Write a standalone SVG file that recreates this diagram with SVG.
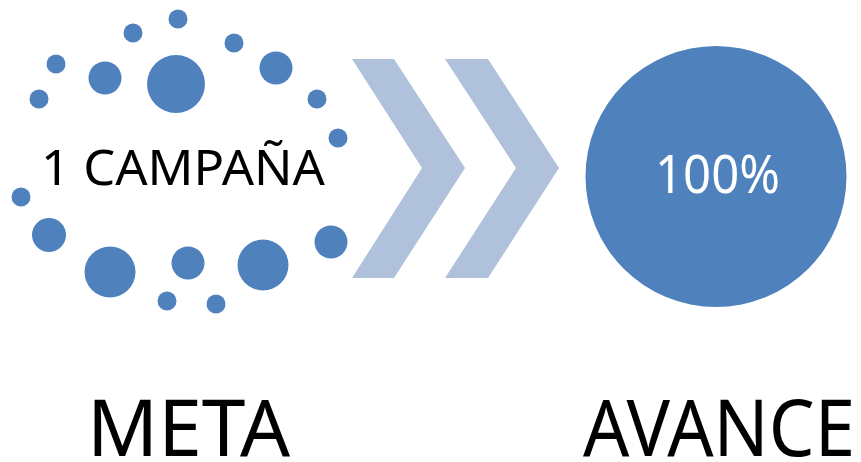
<svg xmlns="http://www.w3.org/2000/svg" width="861" height="462" viewBox="0 0 861 462">
<style>
.dot{fill:#4F81BD}
.chev{fill:#B0C1DC}
.t{font-family:"Noto Sans","Open Sans","Liberation Sans",sans-serif}
</style>
<rect width="861" height="462" fill="#FFFFFF"/>
<g id="meta-node">
<circle class="dot" cx="178" cy="19" r="9.5"/>
<circle class="dot" cx="133" cy="33" r="9.5"/>
<circle class="dot" cx="234" cy="43" r="9.5"/>
<circle class="dot" cx="56" cy="64" r="9.5"/>
<circle class="dot" cx="105" cy="78" r="16.5"/>
<circle class="dot" cx="176" cy="84" r="29"/>
<circle class="dot" cx="276" cy="68" r="16.5"/>
<circle class="dot" cx="39" cy="99" r="9.5"/>
<circle class="dot" cx="317" cy="99" r="9.5"/>
<circle class="dot" cx="338" cy="138" r="9.5"/>
<circle class="dot" cx="21" cy="197" r="9.5"/>
<circle class="dot" cx="49" cy="235" r="17"/>
<circle class="dot" cx="110" cy="272" r="25.5"/>
<circle class="dot" cx="188" cy="263" r="16.5"/>
<circle class="dot" cx="263" cy="265" r="25.5"/>
<circle class="dot" cx="331" cy="242" r="16.5"/>
<circle class="dot" cx="167" cy="301" r="9.5"/>
<circle class="dot" cx="216" cy="304" r="9.5"/>
<text class="t" x="41" y="185" font-size="49" fill="#000000" textLength="284" lengthAdjust="spacingAndGlyphs">1 CAMPAÑA</text>
</g>
<g id="connectors">
<polygon class="chev" points="352,59 394,59 465,168 394,278 352,278 422,168"/>
<polygon class="chev" points="445,59 488,59 559,168 488,278 445,278 516,168"/>
</g>
<g id="avance-node">
<circle cx="716" cy="176.5" r="130.5" fill="#4F81BD"/>
<text class="t" x="655" y="193" font-size="53" fill="#FFFFFF" textLength="125" lengthAdjust="spacingAndGlyphs">100%</text>
</g>
<g id="labels">
<text class="t" x="87" y="456" font-size="79" fill="#000000" textLength="203" lengthAdjust="spacingAndGlyphs">META</text>
<text class="t" x="583" y="456" font-size="79" fill="#000000" textLength="272" lengthAdjust="spacingAndGlyphs">AVANCE</text>
</g>
</svg>
